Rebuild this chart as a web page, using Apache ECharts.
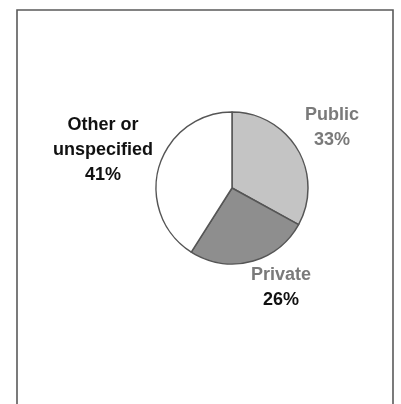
<!DOCTYPE html>
<html>
<head>
<meta charset="utf-8">
<script src="https://cdn.jsdelivr.net/npm/echarts@6/dist/echarts.min.js"></script>
<style>
  html, body { margin: 0; padding: 0; background: #fff; }
  #chart { width: 401px; height: 404px; }
</style>
</head>
<body>
<div id="chart"></div>
<script>
// Funding sources, share of total (percent)
const categories = ['Public', 'Private', 'Other or unspecified'];
const shares = [33, 26, 41];
// Label text lines for each slice name (wrapped as printed)
const nameLines = [['Public'], ['Private'], ['Other or', 'unspecified']];

const sliceColors = ['#c4c4c4', '#8e8e8e', '#ffffff'];
// Name colour and percentage colour for each label
const nameColors = ['#7a7a7a', '#7a7a7a', '#111111'];
const pctColors = ['#7a7a7a', '#111111', '#111111'];
// Label anchor points (centre of each text block)
const labelAnchors = [[332, 128], [281, 288], [103, 150]];

const chart = echarts.init(document.getElementById('chart'), null, { renderer: 'canvas' });

const data = categories.map((name, i) => ({
  name: name,
  value: shares[i],
  itemStyle: { color: sliceColors[i] },
  label: {
    formatter: (p) => nameLines[i].map(l => '{n|' + l + '}').join('\n') + '\n{p|' + Math.round(p.percent) + '%}',
    rich: {
      n: { color: nameColors[i], fontSize: 18, fontWeight: 'bold', fontFamily: 'Liberation Sans, Arial, sans-serif', lineHeight: 25, align: 'center' },
      p: { color: pctColors[i], fontSize: 18, fontWeight: 'bold', fontFamily: 'Liberation Sans, Arial, sans-serif', lineHeight: 25, align: 'center' }
    }
  }
}));

chart.setOption({
  animation: false,
  backgroundColor: '#ffffff',
  graphic: [{
    type: 'rect',
    shape: { x: 17, y: 10, width: 376, height: 420 },
    style: { fill: 'none', stroke: '#5a5a5a', lineWidth: 1.6 },
    silent: true
  }],
  series: [{
    type: 'pie',
    center: [232, 188],
    radius: 76,
    startAngle: 90,
    clockwise: true,
    avoidLabelOverlap: false,
    itemStyle: { borderColor: '#555555', borderWidth: 1.5 },
    label: { show: true, position: 'outside' },
    labelLine: { show: false },
    labelLayout: (params) => {
      const a = labelAnchors[params.dataIndex];
      return { x: a[0], y: a[1], align: 'center', verticalAlign: 'middle' };
    },
    emphasis: { disabled: true },
    data: data
  }]
});
</script>
</body>
</html>
